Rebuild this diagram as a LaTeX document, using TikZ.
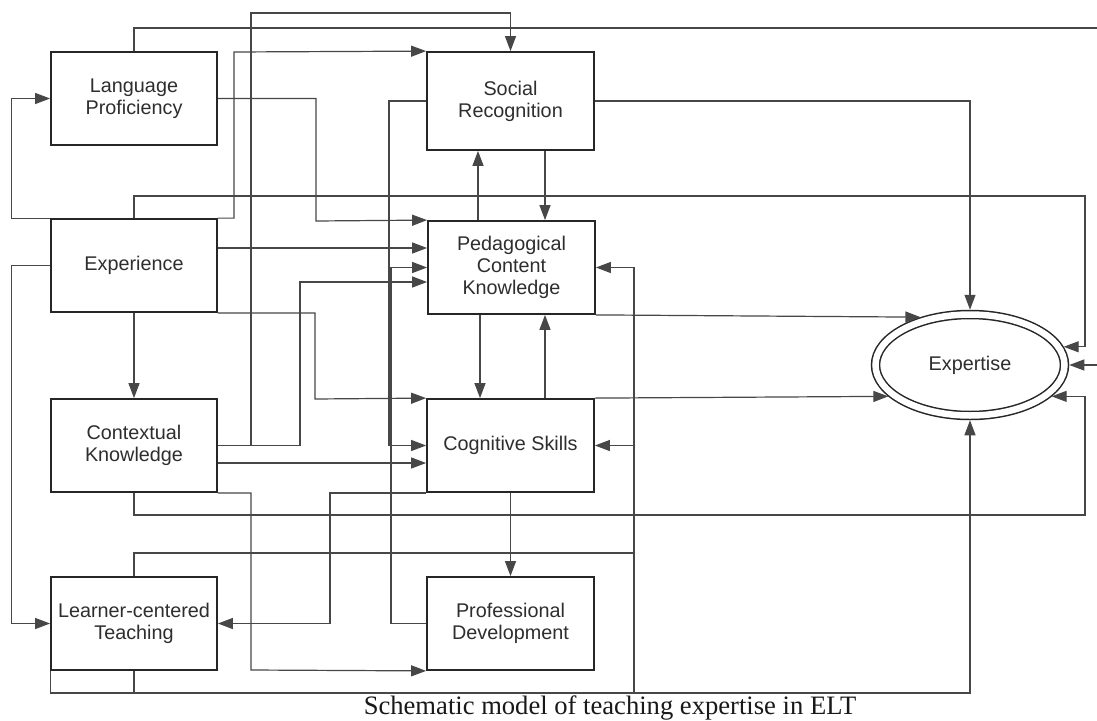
\documentclass[tikz,border=0pt]{standalone}
\usepackage{fontspec}
\newfontfamily\boxfont{Liberation Sans}
\newfontfamily\capfont{Liberation Serif}
\usetikzlibrary{arrows.meta,shapes.geometric}
\begin{document}
\begin{tikzpicture}[x=1pt,y=-1pt,
  box/.style={draw=black!85, line width=1.8pt, minimum width=166pt, minimum height=93pt,
    inner sep=2pt, align=center, text=black!82, font=\boxfont\fontsize{19.8}{22}\selectfont},
  ell/.style={ellipse, draw=black!85, line width=1.5pt, double, double distance=6.5pt,
    minimum width=189pt, minimum height=101pt, outer sep=4.75pt, inner sep=0pt,
    text=black!82, font=\boxfont\fontsize{19.8}{22}\selectfont},
  conn/.style={draw=black!72, line width=1.2pt},
  arr/.style={conn, -{Triangle[length=15pt,width=11pt]}},
  captext/.style={font=\capfont\fontsize{26.6}{30}\selectfont, text=black!90, anchor=base, inner sep=0pt}
]
\useasboundingbox[fill=white] (0,0) rectangle (1097,720);

% nodes
\node[box] (LP)  at (134,98.5)  {Language\\Proficiency};
\node[box] (Exp) at (134,265.5) {Experience};
\node[box] (CK)  at (134,445.5) {Contextual\\Knowledge};
\node[box] (LCT) at (134,623.5) {Learner-centered\\Teaching};
\node[box, minimum width=167pt, minimum height=98pt] (SR) at (510.5,101) {Social\\Recognition};
\node[box, minimum width=167pt] (PCK) at (511.5,267.5) {Pedagogical\\Content\\Knowledge};
\node[box, minimum width=167pt] (CS)  at (510.5,445.5) {Cognitive Skills};
\node[box, minimum width=167pt] (PD)  at (510.5,623.5) {Professional\\Development};
\node[ell] (E) at (970,365) {Expertise};
\node[captext] (cap) at (610,714.5) {Schematic model of teaching expertise in ELT};

\coordinate (rout) at (1097,28);
\coordinate (rin)  at (1097,365);

% connectors from Experience
\draw[arr] (Exp.north west) -- ++(-39,0) |- (LP.west);
\draw[arr] (Exp.west) -- ++(-39,0) |- (LCT.west);
\draw[arr] (Exp.north east) -| (234,52) -- (SR.north west);
\draw[arr] (Exp.east |- 0,248) -- (PCK.west |- 0,248);
\draw[arr] (Exp.south east) -| (315,399) -- (CS.north west);
\draw[arr] (Exp.south) -- (CK.north);
\draw[arr] (Exp.north) |- (1085,196) |- (E.11);

% Language Proficiency
\draw[arr] (LP.east) -| (316,221) -- (PCK.north west);
\draw[conn] (LP.north) |- (rout);
\draw[arr] (rin) -- (E.east);

% Contextual Knowledge
\draw[arr] (CK.east) -| (251,13) -| (SR.north);
\draw[arr] (CK.east) -| (300,282) -- (PCK.west |- 0,282);
\draw[arr] (CK.east |- 0,463) -- (CS.west |- 0,463);
\draw[arr] (CK.south east) -| (251,670) -- (PD.south west);
\draw[arr] (CK.south) |- (1085,515) |- (E.339);

% Social Recognition
\draw[arr] (SR.west) -| (389,445.5) -- (CS.west);
\draw[arr] (SR.south -| 545,0) -- (PCK.north -| 545,0);
\draw[arr] (SR.east) -| (E.north);

% Pedagogical Content Knowledge
\draw[arr] (PCK.north -| 478,0) -- (SR.south -| 478,0);
\draw[arr] (PCK.south -| 480,0) -- (CS.north -| 480,0);
\draw[arr] (PCK.south east) -- (E.136);

% Cognitive Skills
\draw[arr] (CS.north -| 545,0) -- (PCK.south -| 545,0);
\draw[arr] (CS.south) -- (PD.north);
\draw[arr] (CS.south west) -| (330,623.5) -- (LCT.east);
\draw[arr] (CS.north east) -- (E.201);

% Professional Development
\draw[arr] (PD.west) -| (391,267.5) -- (PCK.west);

% Learner-centered Teaching
\draw[arr] (LCT.north) |- (634,553) |- (CS.east);
\draw[arr] (LCT.south west) |- (634,693) |- (PCK.east);
\draw[arr] (LCT.south) |- (E.south |- 0,693) -- (E.south);
\end{tikzpicture}
\end{document}
